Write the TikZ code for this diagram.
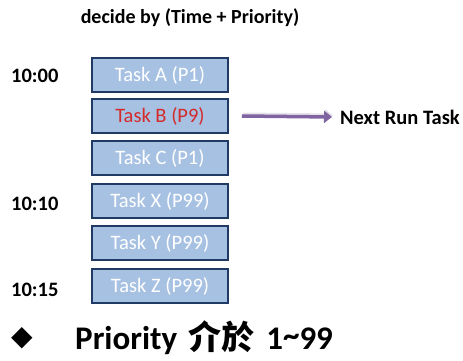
\documentclass[tikz,border=0pt]{standalone}
\usepackage{fontspec}
\setmainfont{Carlito}
\newfontfamily\cjk{Noto Sans CJK TC}
\newfontfamily\sym{DejaVu Sans}
\usetikzlibrary{arrows.meta}
\definecolor{boxfill}{HTML}{A7C1E3}
\definecolor{boxline}{HTML}{1F3B63}
\definecolor{arrowc}{HTML}{8064A2}
\definecolor{redtxt}{HTML}{D42A2A}
\tikzset{
  taskbox/.style={draw=boxline, line width=1.6pt, fill=boxfill, minimum width=136pt, minimum height=34pt, inner sep=0pt, font=\fontsize{20.5}{22}\selectfont, text=white},
  timelbl/.style={font=\bfseries\fontsize{20.5}{22}\selectfont, anchor=west, inner sep=0pt},
}
\begin{document}
\begin{tikzpicture}[x=1pt,y=-1pt]
\useasboundingbox (0,0) rectangle (463,361);
\node[font=\bfseries\fontsize{20}{22}\selectfont, inner sep=0pt] (title) at (190,18) {decide by (Time + Priority)};
\node[taskbox] (a) at (160,75) {Task A (P1)};
\node[taskbox, text=redtxt] (b) at (160,116) {Task B (P9)};
\node[taskbox] (c) at (160,158) {Task C (P1)};
\node[taskbox] (x) at (160,201) {Task X (P99)};
\node[taskbox] (y) at (160,243) {Task Y (P99)};
\node[taskbox] (z) at (160,286) {Task Z (P99)};
\node[timelbl] (t1) at (11,76) {10:00};
\node[timelbl] (t2) at (11,204) {10:10};
\node[timelbl] (t3) at (11,290) {10:15};
\node[font=\bfseries\fontsize{20.5}{22}\selectfont, anchor=west, inner sep=0pt] (next) at (340,117) {Next Run Task};
\draw[arrowc!60!gray!40, line width=4pt, -{Triangle[length=8pt,width=12pt]}, opacity=0.5] ([xshift=14pt,yshift=1.5pt]b.east) -- ([xshift=-7pt,yshift=1.5pt]next.west);
\draw[arrowc, line width=3.5pt, -{Triangle[length=8pt,width=12pt]}] ([xshift=13pt]b.east) -- ([xshift=-8pt]next.west);
\node[anchor=west, inner sep=0pt] (dia) at (11,338) {\sym\fontsize{28}{30}\selectfont ◆};
\node[anchor=west, inner sep=0pt, font=\bfseries\fontsize{33}{36}\selectfont] (prio) at (75,338) {Priority\hspace{0.35em}{\cjk 介於}\hspace{0.35em}1\raisebox{0.1em}{\textasciitilde}99};
\end{tikzpicture}
\end{document}
